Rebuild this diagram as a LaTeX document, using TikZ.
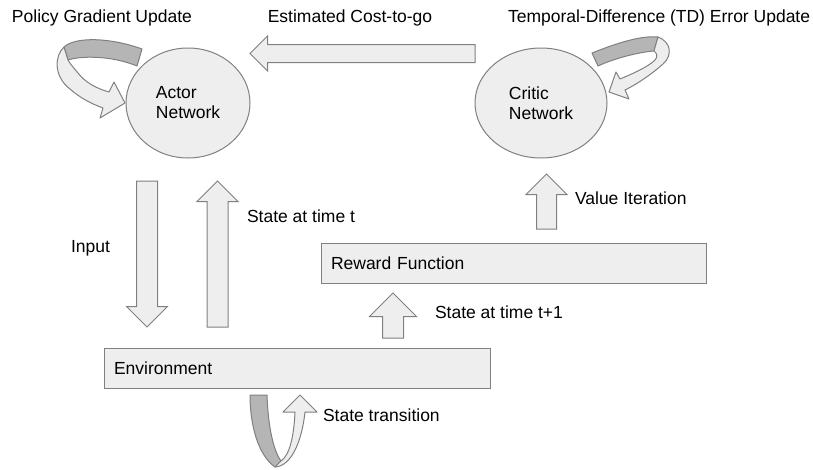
\documentclass[tikz,border=0pt]{standalone}
\usepackage{fontspec}
\setmainfont{Liberation Sans}
\usetikzlibrary{
    shapes.geometric,
    shapes.arrows
}
\definecolor{boxfill}{HTML}{EEEEEE}
\definecolor{bandback}{HTML}{B5B5B5}
\definecolor{edgegray}{HTML}{808080}
\tikzset{
    every picture/.style = {
        x = 1pt,
        y = -1pt,
        line width = 1pt
    },
    every node/.style = {
        inner sep = 0pt,
        outer sep = 0pt,
        align = left
    },
    network/.style = {
        ellipse,
        draw = edgegray,
        fill = boxfill,
        minimum height = 110pt
    },
    block/.style = {
        rectangle,
        draw = edgegray,
        fill = boxfill,
        minimum height = 40pt,
        inner xsep = 10pt
    },
    fat arrow/.style = {
        single arrow,
        draw = edgegray,
        fill = boxfill,
        inner sep = 0pt,
        anchor = tail
    },
    % vertical block arrow: #1 = half shaft width
    up arrow/.style = {fat arrow, shape border rotate = 90, inner xsep = #1},
    down arrow/.style = {fat arrow, shape border rotate = 270, inner xsep = #1},
    band front/.style = {draw = edgegray, fill = boxfill, line join = round},
    band back/.style  = {draw = edgegray, fill = bandback, line join = round}
}

\begin{document}
\begin{tikzpicture}[font = \fontsize{17.5}{20}\selectfont]
    \useasboundingbox (0,0) rectangle (813,469);

    % networks and blocks
    \node[network, minimum width = 124pt] (actor) at (188,103) {Actor\\Network};
    \node[network, minimum width = 132pt] (critic) at (541,103) {Critic\\Network};
    \node[block, minimum width = 385pt, text width = 365pt] (reward) at (513.5,263.5) {Reward Function};
    \node[block, minimum width = 386pt, text width = 366pt] (env) at (297,368) {Environment};

    % block arrows
    \node[fat arrow, shape border rotate = 180, minimum height = 225pt,
          inner ysep = 8.5pt, single arrow head extend = 8.5pt] (costarrow) at (475,53.5) {};
    \node[down arrow = 10pt, minimum height = 146pt,
          single arrow head extend = 10pt] (inputarrow) at (147,181) {};
    \node[up arrow = 10pt, minimum height = 146pt,
          single arrow head extend = 10pt] (statearrow) at (217.5,327) {};
    \node[up arrow = 9.5pt, minimum height = 55pt,
          single arrow head extend = 10.5pt] (valuearrow) at (546.5,229) {};
    \node[up arrow = 10pt, minimum height = 45pt,
          single arrow head extend = 13pt] (nextarrow) at (393,338) {};

    % self loops
    \filldraw[band back] (142,49) .. controls (112,38) and (76,36) .. (64,47)
        -- (68,60) .. controls (80,56) and (110,55) .. (137,66) -- cycle;
    \filldraw[band front] (64,47) .. controls (54,56) and (54,77) .. (70,89)
        .. controls (80,98) and (92,104) .. (103,108) -- (100,118) -- (125,103)
        -- (114,82) -- (109,92) .. controls (95,88) and (85,82) .. (78,73)
        .. controls (72,66) and (69,62) .. (68,60) -- cycle;

    \filldraw[band back] (592,53) .. controls (612,45) and (640,35) .. (658,37)
        -- (654,51) .. controls (640,52) and (615,58) .. (598,66) -- cycle;
    \filldraw[band front] (658,37) .. controls (671,42) and (673,55) .. (663,64)
        .. controls (653,73) and (639,83) .. (625,90) -- (629,99) -- (609,92)
        -- (616,72) -- (620,79) .. controls (632,74) and (648,67) .. (655,60)
        .. controls (658,57) and (657,53) .. (654,51) -- cycle;

    \filldraw[band back] (250,395) -- (267,395) .. controls (268,425) and (273,450) .. (281,461)
        -- (275,467) .. controls (258,455) and (250,425) .. (250,395) -- cycle;
    \filldraw[band front] (275,467) .. controls (292,466) and (302,440) .. (305,412)
        -- (317,412) -- (300,395) -- (283,412) -- (295,412)
        .. controls (294,435) and (290,455) .. (281,461) -- cycle;

    % labels
    \node[anchor = west] (policylabel) at (12,18) {Policy Gradient Update};
    \node (costlabel) at (350,18) {Estimated Cost-to-go};
    \node[anchor = west] (tdlabel) at (508,18) {Temporal-Difference (TD) Error Update};
    \node[anchor = west] (inputlabel) at (71,248) {Input};
    \node[anchor = west] (statelabel) at (247,216) {State at time t};
    \node[anchor = west] (valuelabel) at (575,198) {Value Iteration};
    \node[anchor = west] (nextlabel) at (435,312) {State at time t+1};
    \node[anchor = west] (translabel) at (323,415) {State transition};
\end{tikzpicture}
\end{document}
